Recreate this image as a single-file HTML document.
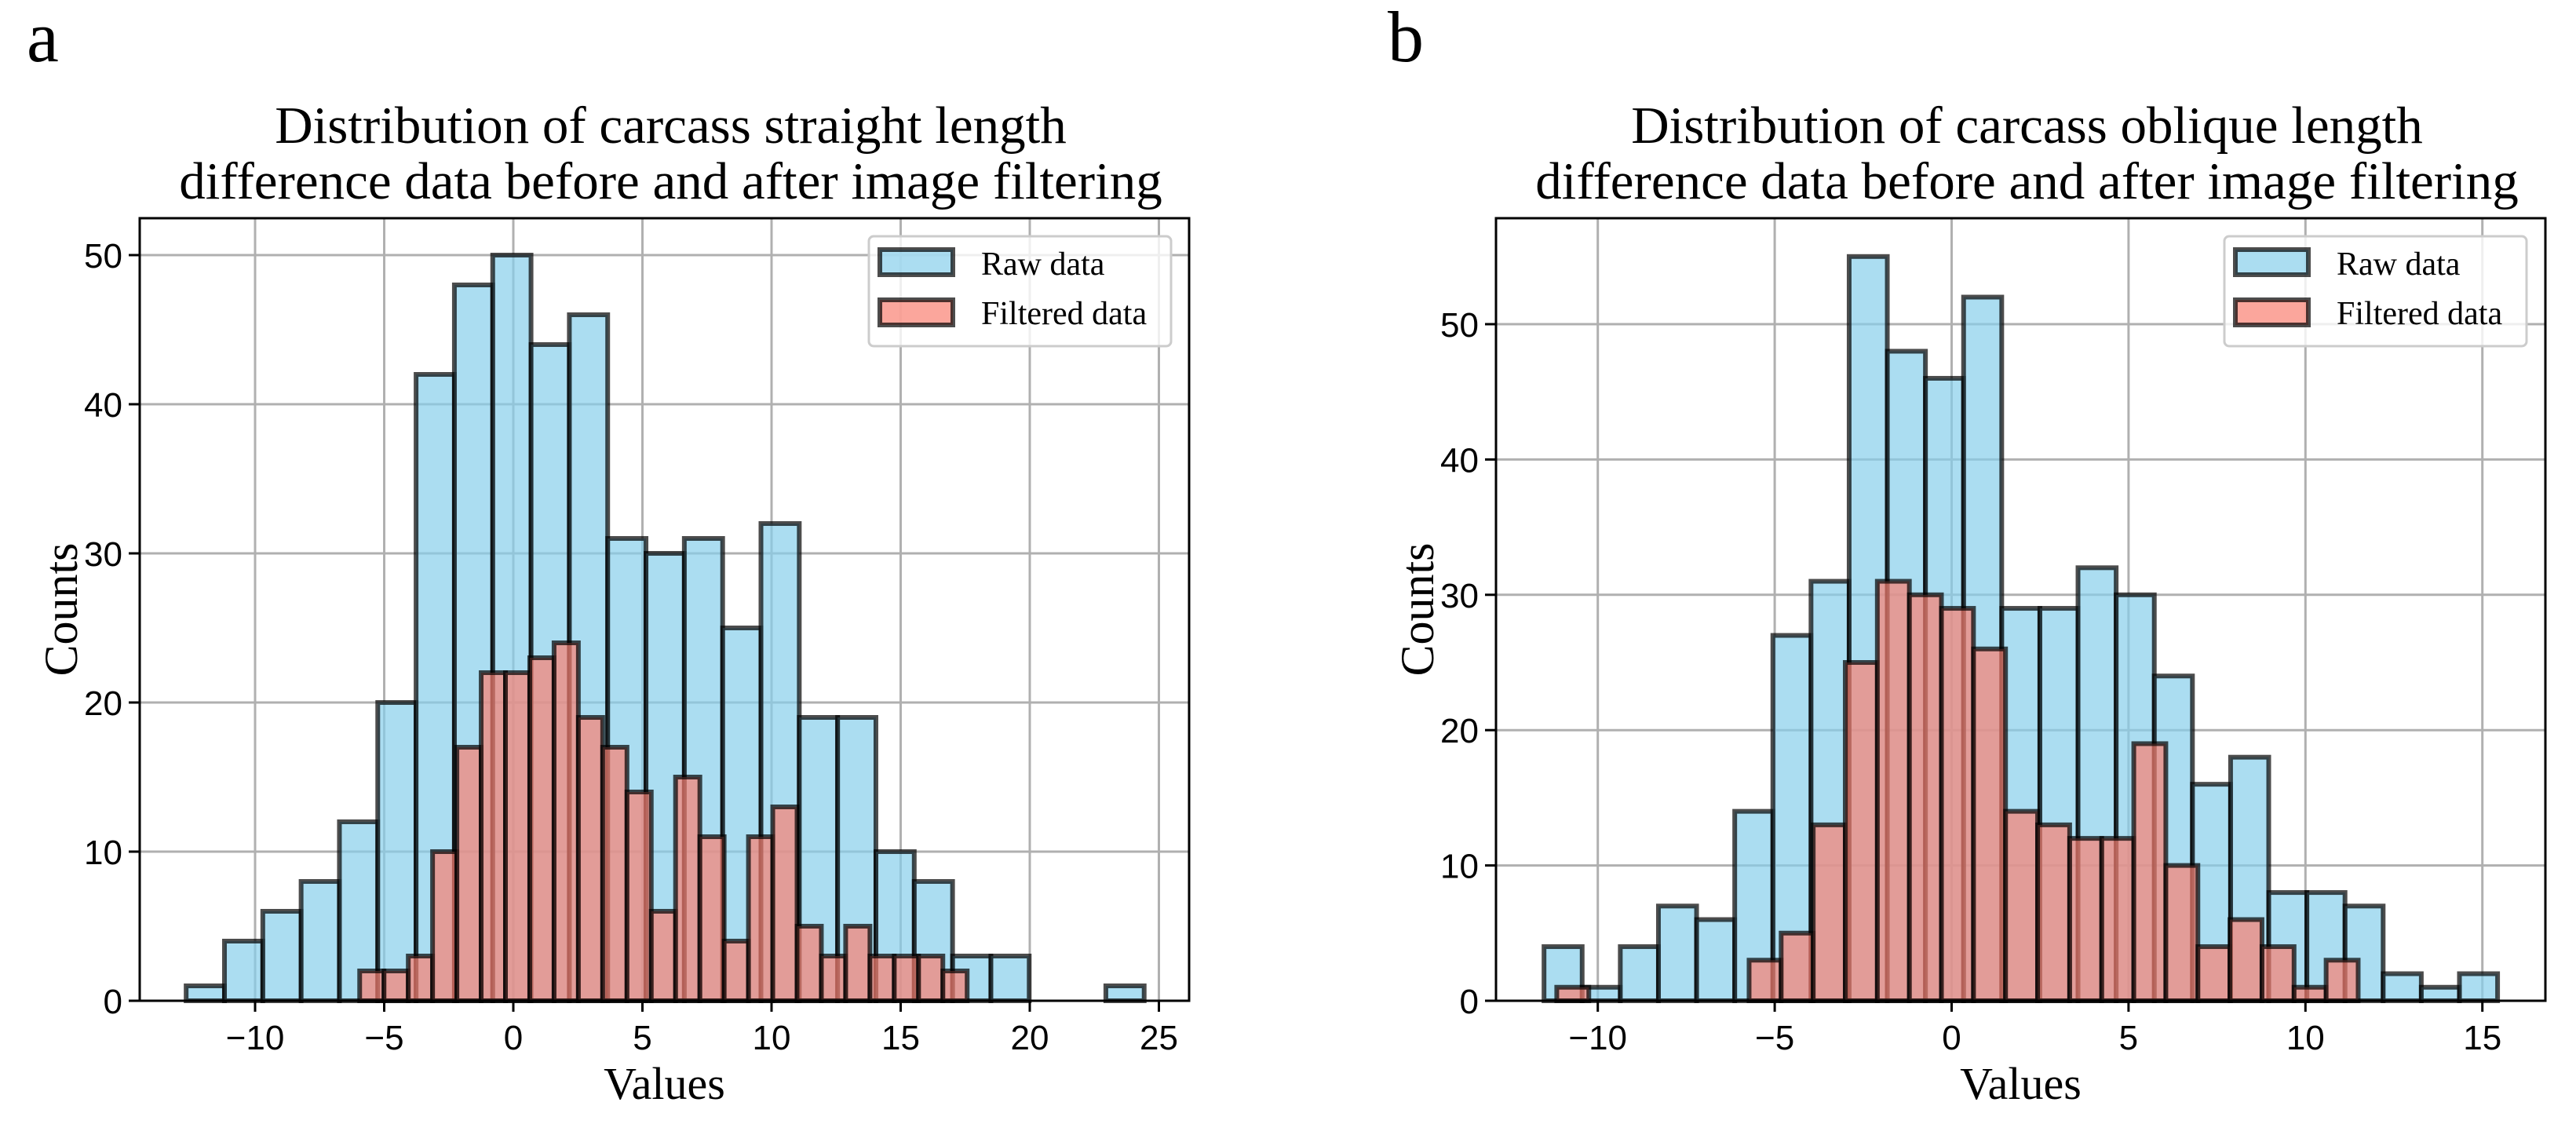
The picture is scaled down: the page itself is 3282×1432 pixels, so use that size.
<!DOCTYPE html>
<html><head><meta charset="utf-8"><style>
html,body{margin:0;padding:0;background:#fff;}
svg{display:block;}
.tick{font-family:"Liberation Sans",sans-serif;font-size:44px;fill:#000;}
.serif{font-family:"Liberation Serif",serif;fill:#000;}
</style></head><body>
<svg id="fig" width="3282" height="1432" viewBox="0 0 3282 1432" xmlns="http://www.w3.org/2000/svg"></svg>
<script>
// Panel a data
const aRawStart = -12.67, aRawWidth = 1.484;
const aRawCounts = [1,4,6,8,12,20,42,48,50,44,46,31,30,31,25,32,19,19,10,8,3,3,0,0,1];
const aFiltStart = -5.95, aFiltWidth = 0.941;
const aFiltCounts = [2,2,3,10,17,22,22,23,24,19,17,14,6,15,11,4,11,13,5,3,5,3,3,3,2];
const aXTicks = [-10,-5,0,5,10,15,20,25];
const aYTicks = [0,10,20,30,40,50];
// Panel b data
const bRawStart = -11.52, bRawWidth = 1.078;
const bRawCounts = [4,1,4,7,6,14,27,31,55,48,46,52,29,29,32,30,24,16,18,8,8,7,2,1,2];
const bFiltStart = -11.16, bFiltWidth = 0.906;
const bFiltCounts = [1,0,0,0,0,0,3,5,13,25,31,30,29,26,14,13,12,12,19,10,4,6,4,1,3];
const bXTicks = [-10,-5,0,5,10,15];
const bYTicks = [0,10,20,30,40,50];

const NS = "http://www.w3.org/2000/svg";
const svg = document.getElementById('fig');
function mk(tag, attrs, parent, text){
  const e = document.createElementNS(NS, tag);
  for (const k in attrs) e.setAttribute(k, attrs[k]);
  if (text !== undefined) e.textContent = text;
  (parent || svg).appendChild(e);
  return e;
}

function panel(cfg){
  const g = mk('g', {});
  
  
  const L = cfg.left, R = cfg.right, T = 278, B = 1275;
  const xs = v => cfg.x0 + v * cfg.xu;
  const ys = v => B - v * cfg.yu;
  cfg.xTicks.forEach(t => {
    const l = mk('line', {x1:xs(t), x2:xs(t), y1:T, y2:B, stroke:'#b0b0b0', 'stroke-width':3}, g);
    
    
  });
  cfg.yTicks.forEach(t => {
    const l = mk('line', {x1:L, x2:R, y1:ys(t), y2:ys(t), stroke:'#b0b0b0', 'stroke-width':3}, g);
    
    
  });
  function bars(start, w, counts, fill, nm){
    counts.forEach((c, i) => {
      if (c <= 0) return;
      const x1 = xs(start + i * w), x2 = xs(start + (i + 1) * w);
      const r = mk('rect', {x:x1, y:ys(c), width:x2 - x1, height:B - ys(c), fill:fill, 'fill-opacity':0.7, stroke:'#000', 'stroke-opacity':0.7, 'stroke-width':6}, g);
      
      
    });
  }
  bars(cfg.rawStart, cfg.rawWidth, cfg.rawCounts, '#87CEEB', 'raw-bar');
  bars(cfg.filtStart, cfg.filtWidth, cfg.filtCounts, '#FA8072', 'filtered-bar');
  const sp = mk('rect', {x:L, y:T, width:R - L, height:B - T, fill:'none', stroke:'#000', 'stroke-width':3}, g);
  
  
  cfg.xTicks.forEach(t => {
    mk('line', {x1:xs(t), x2:xs(t), y1:B, y2:B + 14, stroke:'#000', 'stroke-width':3}, g);
    const tx = mk('text', {x:xs(t), y:B + 62, 'text-anchor':'middle', class:'tick'}, g, t < 0 ? '\u2212' + Math.abs(t) : String(t));
    
    
  });
  cfg.yTicks.forEach(t => {
    mk('line', {x1:L - 14, x2:L, y1:ys(t), y2:ys(t), stroke:'#000', 'stroke-width':3}, g);
    const tx = mk('text', {x:L - 22, y:ys(t) + 16, 'text-anchor':'end', class:'tick'}, g, String(t));
    
    
  });
  const cx = (L + R) / 2 + 8;
  const t1 = mk('text', {x:cx, y:182, 'text-anchor':'middle', class:'serif', 'font-size':67}, g, cfg.title1);
  
  
  const t2 = mk('text', {x:cx, y:253, 'text-anchor':'middle', class:'serif', 'font-size':67}, g, 'difference data before and after image filtering');
  
  
  const xl = mk('text', {x:(L + R) / 2, y:1400, 'text-anchor':'middle', class:'serif', 'font-size':58}, g, 'Values');
  
  
  const yl = mk('text', {x:0, y:0, 'text-anchor':'middle', class:'serif', 'font-size':60, transform:'translate(' + (cfg.ylabX) + ',' + ((T + B) / 2) + ') rotate(-90)'}, g, 'Counts');
  
  
  const pl = mk('text', {x:cfg.labX, y:78, class:'serif', 'font-size':92}, g, cfg.label);
  
  
  const lg = mk('g', {}, g);
  
  
  const lx = cfg.legX;
  mk('rect', {x:lx, y:301, width:385, height:140, rx:6, fill:'#fff', 'fill-opacity':0.8, stroke:'#ccc', 'stroke-width':3}, lg);
  const e1 = mk('rect', {x:lx + 14, y:318, width:93, height:32, fill:'#87CEEB', 'fill-opacity':0.7, stroke:'#000', 'stroke-opacity':0.7, 'stroke-width':6}, lg);
  
  
  const e2 = mk('rect', {x:lx + 14, y:382, width:93, height:32, fill:'#FA8072', 'fill-opacity':0.7, stroke:'#000', 'stroke-opacity':0.7, 'stroke-width':6}, lg);
  
  
  const lt1 = mk('text', {x:lx + 143, y:350, class:'serif', 'font-size':42}, lg, 'Raw data');
  
  
  const lt2 = mk('text', {x:lx + 143, y:413, class:'serif', 'font-size':42}, lg, 'Filtered data');
  
  
}

panel({name:'panel-a', left:178, right:1515, x0:654, xu:32.9, yu:19.0,
  rawStart:aRawStart, rawWidth:aRawWidth, rawCounts:aRawCounts,
  filtStart:aFiltStart, filtWidth:aFiltWidth, filtCounts:aFiltCounts,
  xTicks:aXTicks, yTicks:aYTicks,
  title1:'Distribution of carcass straight length', ylabX:98, labX:34, label:'a', legX:1107});
panel({name:'panel-b', left:1906, right:3243, x0:2486.5, xu:45.08, yu:17.24,
  rawStart:bRawStart, rawWidth:bRawWidth, rawCounts:bRawCounts,
  filtStart:bFiltStart, filtWidth:bFiltWidth, filtCounts:bFiltCounts,
  xTicks:bXTicks, yTicks:bYTicks,
  title1:'Distribution of carcass oblique length', ylabX:1826, labX:1768, label:'b', legX:2834});
</script>
</body></html>
